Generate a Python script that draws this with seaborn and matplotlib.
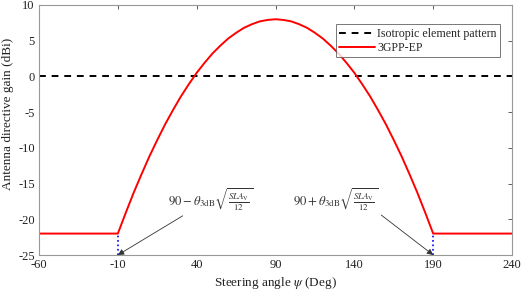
import matplotlib
matplotlib.use("Agg")
import matplotlib.pyplot as plt
import seaborn as sns
import pandas as pd

# Steering angles (deg) and read-off gains (dBi) for the 3GPP element pattern
angle = [-60, -10, -5, 0, 5, 10, 15, 20, 25, 30, 35, 40, 45, 50, 55, 60, 65, 70, 75, 80, 85,
         90, 95, 100, 105, 110, 115, 120, 125, 130, 135, 140, 145, 150, 155, 160, 165, 170,
         175, 180, 185, 190, 240]
gain_3gpp = [-22.0, -22.0, -19.1, -16.3, -13.7, -11.2, -8.9, -6.7, -4.7, -2.8, -1.1, 0.5, 1.9,
             3.2, 4.3, 5.3, 6.1, 6.8, 7.3, 7.7, 7.9,
             8.0, 7.9, 7.7, 7.3, 6.8, 6.1, 5.3, 4.3, 3.2, 1.9, 0.5, -1.1, -2.8, -4.7, -6.7,
             -8.9, -11.2, -13.7, -16.3, -19.1, -22.0, -22.0]
iso_angle = [-60, 240]
iso_gain = [0, 0]
xticks = [-60, -10, 40, 90, 140, 190, 240]
yticks = [-25, -20, -15, -10, -5, 0, 5, 10]
marker_x = [-10, 190]

sns.set_style("white")
plt.rcParams['font.family'] = ['Liberation Serif', 'DejaVu Serif']
plt.rcParams['mathtext.fontset'] = 'stix'

fig = plt.figure(figsize=(5.23, 2.91), dpi=100)
ax = fig.add_axes([0.0746, 0.1237, 0.9044, 0.8593])

df_iso = pd.DataFrame({"x": iso_angle, "y": iso_gain})
df_ep = pd.DataFrame({"x": angle, "y": gain_3gpp})
sns.lineplot(data=df_iso, x="x", y="y", ax=ax, color="black", linestyle=(0, (3.5, 3)),
             linewidth=1.4, label="Isotropic element pattern")
sns.lineplot(data=df_ep, x="x", y="y", ax=ax, color="#ff0000", linewidth=1.4,
             label="3GPP-EP", sort=False)
for mx in marker_x:
    ax.plot([mx, mx], [-25, -22], color="blue", linestyle=":", linewidth=1.2)

ax.set_xlim(-60, 240)
ax.set_ylim(-25, 10)
ax.set_xticks(xticks)
ax.set_yticks(yticks)
ax.set_xticklabels([str(t) for t in xticks])
ax.set_yticklabels([str(t) for t in yticks])
ax.tick_params(direction="in", length=3, width=0.6, color="#444444", labelsize=9,
               top=True, right=True, labelcolor="#222222", pad=3)
for s in ax.spines.values():
    s.set_color("#999999")
    s.set_linewidth(0.8)
ax.set_xlabel(r"Steering angle $\psi$ (Deg)", fontsize=9.5, color="#222222", labelpad=3)
ax.set_ylabel("Antenna directive gain (dBi)", fontsize=9.5, color="#222222")
ax.yaxis.set_label_coords(-0.052, 0.565)

ax.annotate(r"$90-\theta_{\rm 3dB}\sqrt{\frac{SLA_{\rm V}}{12}}$", xy=(-10, -25),
            xytext=(21.5, -17.2), fontsize=9.2, color="#333333", va="center", ha="left",
            arrowprops=dict(arrowstyle="-|>", color="#333333", lw=0.6, shrinkA=0, shrinkB=0,
                            mutation_scale=9),
            annotation_clip=False)
ax.annotate(r"$90+\theta_{\rm 3dB}\sqrt{\frac{SLA_{\rm V}}{12}}$", xy=(190, -25),
            xytext=(101, -17.2), fontsize=9.2, color="#333333", va="center", ha="left",
            arrowprops=dict(arrowstyle="-|>", color="#333333", lw=0.6, shrinkA=0, shrinkB=0,
                            mutation_scale=9, relpos=(1.0, 0.0)),
            annotation_clip=False)

leg = ax.legend(loc="upper right", bbox_to_anchor=(0.975, 0.922), fontsize=8.6,
                frameon=True, fancybox=False, edgecolor="#555555", handlelength=3.0,
                handletextpad=0.15, borderpad=0.3, labelspacing=0.15, borderaxespad=0)
leg.get_frame().set_linewidth(0.7)

fig.savefig("out.png", dpi=100)
